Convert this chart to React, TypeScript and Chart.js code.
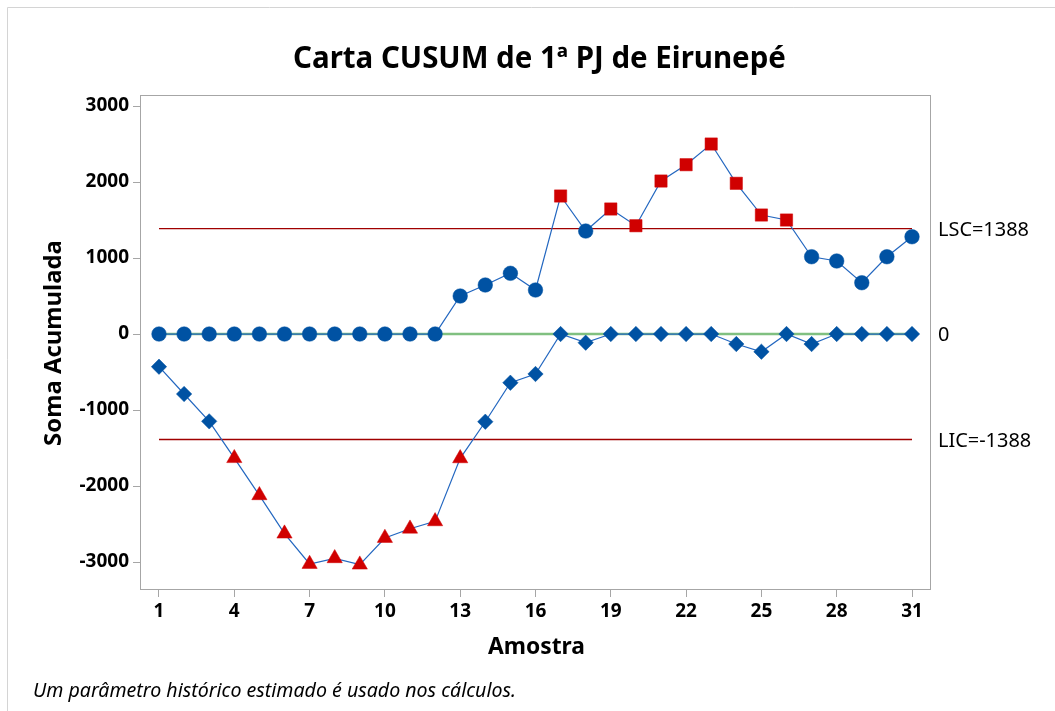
import React, { useEffect, useRef } from "react";
import { Chart, registerables } from "chart.js";

Chart.register(...registerables);

// ---------- data ----------
const samples = [1, 2, 3, 4, 5, 6, 7, 8, 9, 10, 11, 12, 13, 14, 15, 16, 17, 18, 19, 20, 21, 22, 23, 24, 25, 26, 27, 28, 29, 30, 31];
const upperCusum = [0, 0, 0, 0, 0, 0, 0, 0, 0, 0, 0, 0, 500, 645, 799, 579, 1816, 1355, 1645, 1425, 2013, 2228, 2500, 1983, 1566, 1500, 1017, 961, 675, 1017, 1280];
const lowerCusum = [-430, -789, -1149, -1634, -2122, -2627, -3026, -2951, -3035, -2684, -2562, -2465, -1636, -1154, -641, -526, 0, -114, 0, 0, 0, 0, 0, -132, -233, 0, -132, 0, 0, 0, 0];
const LSC = 1388;
const LIC = -1388;
const CENTER = 0;
const xTickValues = [1, 4, 7, 10, 13, 16, 19, 22, 25, 28, 31];
const yTickValues = [-3000, -2000, -1000, 0, 1000, 2000, 3000];

const TITLE = "Carta CUSUM de 1ª PJ de Eirunepé";
const X_TITLE = "Amostra";
const Y_TITLE = "Soma Acumulada";
const FOOTER = "Um parâmetro histórico estimado é usado nos cálculos.";
const LSC_LABEL = "LSC=1388";
const CENTER_LABEL = "0";
const LIC_LABEL = "LIC=-1388";

// ---------- styles ----------
const FONT = "'Noto Sans', 'Open Sans', sans-serif";
const BLUE = "#0052a3";
const LINE_BLUE = "#2367c0";
const RED = "#d00000";
const LIMIT_RED = "#a00000";
const GREEN = "#80c080";
const AXIS_GRAY = "#a6a6a6";

function fitSize(ctx: CanvasRenderingContext2D, text: string, style: string, weight: string, target: number) {
  ctx.font = `${style} ${weight} 100px ${FONT}`;
  const w = ctx.measureText(text).width;
  return (100 * target) / w;
}

function drawText(
  ctx: CanvasRenderingContext2D,
  text: string,
  x: number,
  cy: number,
  size: number,
  style: string,
  weight: string,
  align: CanvasTextAlign
) {
  ctx.font = `${style} ${weight} ${size}px ${FONT}`;
  ctx.textAlign = align;
  ctx.textBaseline = "alphabetic";
  ctx.fillStyle = "#000";
  ctx.fillText(text, x, cy + 0.357 * size);
}

const decorPlugin = {
  id: "decor",
  beforeDraw(chart: any) {
    const ctx = chart.ctx as CanvasRenderingContext2D;
    ctx.save();
    ctx.fillStyle = "#fff";
    ctx.fillRect(0, 0, chart.width, chart.height);
    // figure frame (top & left)
    ctx.strokeStyle = "#d4d4d4";
    ctx.lineWidth = 1;
    ctx.beginPath();
    ctx.moveTo(7.5, chart.height);
    ctx.lineTo(7.5, 7.5);
    ctx.lineTo(chart.width, 7.5);
    ctx.stroke();
    ctx.restore();
  },
  beforeDatasetsDraw(chart: any) {
    const ctx = chart.ctx as CanvasRenderingContext2D;
    const a = chart.chartArea;
    ctx.save();
    ctx.strokeStyle = AXIS_GRAY;
    ctx.lineWidth = 1;
    ctx.strokeRect(Math.round(a.left) - 0.5, Math.round(a.top) - 0.5, Math.round(a.right - a.left) + 1, Math.round(a.bottom - a.top) + 1);
    ctx.restore();
  },
  afterDraw(chart: any) {
    const ctx = chart.ctx as CanvasRenderingContext2D;
    const ys = chart.scales.y;
    ctx.save();
    // title
    const ts = fitSize(ctx, TITLE, "normal", "bold", 493);
    drawText(ctx, TITLE, 539.5, 57, ts, "normal", "bold", "center");
    // x title
    const xs = fitSize(ctx, X_TITLE, "normal", "bold", 97);
    drawText(ctx, X_TITLE, 536.5, 646, xs, "normal", "bold", "center");
    // y title (rotated)
    const yts = fitSize(ctx, Y_TITLE, "normal", "bold", 206);
    ctx.save();
    ctx.translate(52, 343);
    ctx.rotate(-Math.PI / 2);
    drawText(ctx, Y_TITLE, 0, 0, yts, "normal", "bold", "center");
    ctx.restore();
    // footer
    const fs = fitSize(ctx, FOOTER, "italic", "normal", 483);
    drawText(ctx, FOOTER, 33, 690, fs, "italic", "normal", "left");
    // limit labels
    const ls = fitSize(ctx, LSC_LABEL, "normal", "normal", 91);
    const lx = chart.chartArea.right + 8;
    drawText(ctx, LSC_LABEL, lx, ys.getPixelForValue(LSC), ls, "normal", "normal", "left");
    drawText(ctx, CENTER_LABEL, lx, ys.getPixelForValue(CENTER), ls, "normal", "normal", "left");
    drawText(ctx, LIC_LABEL, lx, ys.getPixelForValue(LIC), ls, "normal", "normal", "left");
    ctx.restore();
  },
};

export default function App() {
  const canvasRef = useRef<HTMLCanvasElement | null>(null);

  useEffect(() => {
    const canvas = canvasRef.current;
    if (!canvas) return;

    const upperStyles = upperCusum.map((v) => (v > LSC ? "rect" : "circle"));
    const upperRadii = upperCusum.map((v) => (v > LSC ? 8.7 : 7.3));
    const upperColors = upperCusum.map((v) => (v > LSC ? RED : BLUE));
    const lowerStyles = lowerCusum.map((v) => (v < LIC ? "triangle" : "rectRot"));
    const lowerRadii = lowerCusum.map((v) => (v < LIC ? 8.8 : 7.7));
    const lowerColors = lowerCusum.map((v) => (v < LIC ? RED : BLUE));

    const first = samples[0];
    const last = samples[samples.length - 1];

    const chart = new Chart(canvas, {
      type: "line",
      data: {
        datasets: [
          {
            data: samples.map((x, i) => ({ x, y: upperCusum[i] })),
            borderColor: LINE_BLUE,
            borderWidth: 1.2,
            pointStyle: upperStyles as any,
            pointRadius: upperRadii,
            pointBackgroundColor: upperColors,
            pointBorderColor: upperColors,
            pointBorderWidth: 0.5,
            tension: 0,
          },
          {
            data: samples.map((x, i) => ({ x, y: lowerCusum[i] })),
            borderColor: LINE_BLUE,
            borderWidth: 1.2,
            pointStyle: lowerStyles as any,
            pointRadius: lowerRadii,
            pointBackgroundColor: lowerColors,
            pointBorderColor: lowerColors,
            pointBorderWidth: 0.5,
            tension: 0,
          },
          {
            data: [
              { x: first, y: LSC },
              { x: last, y: LSC },
            ],
            borderColor: LIMIT_RED,
            borderWidth: 1.3,
            pointRadius: 0,
          },
          {
            data: [
              { x: first, y: LIC },
              { x: last, y: LIC },
            ],
            borderColor: LIMIT_RED,
            borderWidth: 1.3,
            pointRadius: 0,
          },
          {
            data: [
              { x: first, y: CENTER },
              { x: last, y: CENTER },
            ],
            borderColor: GREEN,
            borderWidth: 2.5,
            pointRadius: 0,
          },
        ],
      },
      options: {
        responsive: false,
        animation: false,
        layout: { padding: { left: 0, right: 125, top: 96, bottom: 0 } },
        plugins: {
          legend: { display: false },
          tooltip: { enabled: false },
          title: { display: false },
        },
        scales: {
          x: {
            type: "linear",
            min: 0.283,
            max: 31.717,
            afterBuildTicks: (s: any) => {
              s.ticks = xTickValues.map((v) => ({ value: v }));
            },
            afterFit: (s: any) => {
              s.height = 122;
            },
            ticks: {
              callback: (v: any) => String(v),
              color: "#000",
              font: { family: FONT, size: 19, weight: "bold" },
              padding: 3,
              maxRotation: 0,
              autoSkip: false,
            },
            grid: { drawOnChartArea: false, drawTicks: true, tickLength: 8, color: AXIS_GRAY },
            border: { display: false },
          },
          y: {
            type: "linear",
            min: -3355,
            max: 3132,
            afterBuildTicks: (s: any) => {
              s.ticks = yTickValues.map((v) => ({ value: v }));
            },
            afterFit: (s: any) => {
              s.width = 141;
            },
            ticks: {
              callback: (v: any) => String(v),
              color: "#000",
              font: { family: FONT, size: 19, weight: "bold" },
              padding: 4,
              autoSkip: false,
            },
            grid: { drawOnChartArea: false, drawTicks: true, tickLength: 8, color: AXIS_GRAY },
            border: { display: false },
          },
        },
      },
      plugins: [decorPlugin],
    });

    return () => chart.destroy();
  }, []);

  return (
    <div style={{ position: "absolute", left: 0, top: 0, width: 1055, height: 711, background: "#fff" }}>
      <canvas ref={canvasRef} width={1055} height={711} style={{ display: "block" }} />
    </div>
  );
}
